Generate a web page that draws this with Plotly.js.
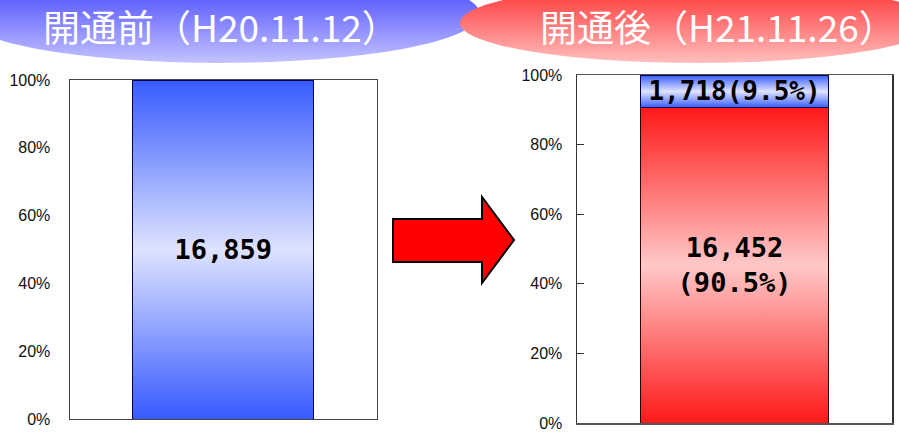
<!DOCTYPE html>
<html>
<head>
<meta charset="utf-8">
<script src="https://cdn.plot.ly/plotly-3.0.1.min.js"></script>
<style>html,body{margin:0;padding:0;background:#fff;}#chart{width:899px;height:432px;}</style>
</head>
<body>
<div id="chart"></div>
<script>
// ---- data ----
const titleBefore = '開通前（H20.11.12）';
const titleAfter = '開通後（H21.11.26）';
const categoryBefore = ['開通前'];
const categoryAfter = ['開通後'];
const beforeTotal = [16859];     // before opening (single bar)
const afterRed = [16452];        // after opening, lower (red) part
const afterBlue = [1718];        // after opening, upper (blue) part
const yTickVals = [0, 20, 40, 60, 80, 100];
const yTickText = ['0%', '20%', '40%', '60%', '80%', '100%'];

const W = 899, H = 432;
const px = x => x / W;
const py = y => 1 - y / H;
const fmt = v => v.toLocaleString('en-US');
const afterSum = afterRed[0] + afterBlue[0];
const pct = v => (v / afterSum * 100).toFixed(1) + '%';

const BLUE = 'rgb(51, 85, 255)';
const RED = 'rgb(255, 20, 20)';
const ELL_BLUE = 'rgb(60, 60, 254)';
const ELL_RED = 'rgb(254, 60, 60)';

const textFont = {family: 'DejaVu Sans Mono, monospace', size: 27, color: '#000', weight: 'bold'};

const traces = [
  {type: 'bar', x: categoryBefore, y: beforeTotal, xaxis: 'x', yaxis: 'y', width: 0.59,
   marker: {color: BLUE, line: {color: '#000050', width: 1}},
   text: beforeTotal.map(fmt), textposition: 'inside', insidetextanchor: 'middle', textangle: 0,
   constraintext: 'none', insidetextfont: textFont, hoverinfo: 'none'},
  {type: 'bar', x: categoryAfter, y: afterRed, xaxis: 'x2', yaxis: 'y2', width: 0.594,
   marker: {color: RED, line: {color: '#300000', width: 1}},
   text: afterRed.map(v => fmt(v) + '<br>(' + pct(v) + ')'), textposition: 'inside', insidetextanchor: 'middle', textangle: 0,
   constraintext: 'none', insidetextfont: textFont, hoverinfo: 'none'},
  {type: 'bar', x: categoryAfter, y: afterBlue, xaxis: 'x2', yaxis: 'y2', width: 0.594,
   marker: {color: BLUE, line: {color: '#000050', width: 1}},
   text: afterBlue.map(v => fmt(v) + '(' + pct(v) + ')'), textposition: 'inside', insidetextanchor: 'middle', textangle: 0,
   constraintext: 'none', insidetextfont: Object.assign({}, textFont, {size: 26}), hoverinfo: 'none'}
];

const tickFont = {family: 'Liberation Sans, Arial, sans-serif', size: 16, color: '#111'};

const layout = {
  width: W, height: H, autosize: false,
  margin: {l: 0, r: 0, t: 0, b: 0, pad: 0},
  paper_bgcolor: '#fff', plot_bgcolor: '#fff',
  showlegend: false,
  barmode: 'stack', barnorm: 'percent',
  xaxis: {domain: [px(69.5), px(377)], range: [-0.5, 0.5], showticklabels: false, ticks: '',
          showgrid: false, zeroline: false, showline: true, mirror: true, linecolor: '#444', linewidth: 1, fixedrange: true},
  yaxis: {domain: [py(419), py(80)], range: [0, 100], tickvals: yTickVals, ticktext: yTickText, ticks: '',
          showgrid: false, zeroline: false, showline: true, mirror: true, linecolor: '#444', linewidth: 1,
          tickfont: tickFont, ticklabelstandoff: 15, fixedrange: true},
  xaxis2: {domain: [px(577), px(892)], range: [-0.5, 0.5], anchor: 'y2', showticklabels: false, ticks: '',
           showgrid: false, zeroline: false, showline: true, mirror: true, linecolor: '#555', linewidth: 1.5, fixedrange: true},
  yaxis2: {domain: [py(423), py(75)], range: [0, 100], anchor: 'x2', tickvals: yTickVals, ticktext: yTickText,
           ticks: 'inside', ticklen: 7, tickcolor: '#333', tickwidth: 1,
           showgrid: false, zeroline: false, showline: true, mirror: true, linecolor: '#333', linewidth: 1.5,
           tickfont: tickFont, ticklabelstandoff: 10, fixedrange: true},
  shapes: [
    {type: 'circle', xref: 'paper', yref: 'paper', x0: px(-40), x1: px(480), y0: py(63), y1: py(-35),
     fillcolor: ELL_BLUE, line: {width: 0}, layer: 'above'},
    {type: 'circle', xref: 'paper', yref: 'paper', x0: px(460), x1: px(935), y0: py(63), y1: py(-17),
     fillcolor: ELL_RED, line: {width: 0}, layer: 'above'},
    {type: 'path', xref: 'paper', yref: 'paper',
     path: 'M' + px(393) + ',' + py(219) + ' L' + px(482) + ',' + py(219) + ' L' + px(482) + ',' + py(197) +
           ' L' + px(514) + ',' + py(240) + ' L' + px(482) + ',' + py(283) + ' L' + px(482) + ',' + py(262) +
           ' L' + px(393) + ',' + py(262) + ' Z',
     fillcolor: 'rgb(255, 0, 0)', line: {color: '#000', width: 2}, layer: 'above'}
  ],
  annotations: [
    {text: titleBefore, xref: 'paper', yref: 'paper', x: px(221), y: py(26), xanchor: 'center', yanchor: 'middle',
     showarrow: false, borderpad: 0, font: {family: 'Noto Sans CJK JP, sans-serif', size: 37, color: '#fff'}},
    {text: titleAfter, xref: 'paper', yref: 'paper', x: px(718), y: py(26), xanchor: 'center', yanchor: 'middle',
     showarrow: false, borderpad: 0, font: {family: 'Noto Sans CJK JP, sans-serif', size: 37, color: '#fff'}}
  ]
};

const gd = document.getElementById('chart');
const NS = 'http://www.w3.org/2000/svg';
function makeGrad(defs, id, stops) {
  if (defs.querySelector('#' + id)) return;
  const g = document.createElementNS(NS, 'linearGradient');
  g.setAttribute('id', id);
  g.setAttribute('x1', '0'); g.setAttribute('y1', '0'); g.setAttribute('x2', '0'); g.setAttribute('y2', '1');
  stops.forEach(s => {
    const st = document.createElementNS(NS, 'stop');
    st.setAttribute('offset', s[0]);
    st.setAttribute('stop-color', s[1]);
    g.appendChild(st);
  });
  defs.appendChild(g);
}
const norm = s => (s || '').replace(/\s/g, '');
function applyGradients() {
  const svg = gd.querySelector('.main-svg');
  if (!svg) return;
  let defs = svg.querySelector('#customGrads');
  if (!defs) {
    defs = document.createElementNS(NS, 'defs');
    defs.setAttribute('id', 'customGrads');
    svg.insertBefore(defs, svg.firstChild);
  }
  makeGrad(defs, 'gBlue', [['0', 'rgb(55,90,255)'], ['0.5', 'rgb(222,227,255)'], ['1', 'rgb(55,90,255)']]);
  makeGrad(defs, 'gRed', [['0', 'rgb(255,25,25)'], ['0.5', 'rgb(255,200,200)'], ['1', 'rgb(255,25,25)']]);
  makeGrad(defs, 'gEllBlue', [['0', 'rgb(45,45,255)'], ['1', 'rgb(195,195,255)']]);
  makeGrad(defs, 'gEllRed', [['0', 'rgb(255,45,45)'], ['1', 'rgb(255,190,190)']]);
  const map = {};
  map[norm(BLUE)] = 'url(#gBlue)';
  map[norm(RED)] = 'url(#gRed)';
  map[norm(ELL_BLUE)] = 'url(#gEllBlue)';
  map[norm(ELL_RED)] = 'url(#gEllRed)';
  gd.querySelectorAll('.barlayer .point path, .shapelayer path').forEach(p => {
    const f = norm(p.style.fill);
    if (map[f]) p.style.fill = map[f];
  });
}
Plotly.newPlot(gd, traces, layout, {staticPlot: true, displayModeBar: false}).then(applyGradients);
gd.on && gd.on('plotly_afterplot', applyGradients);
</script>
</body>
</html>
